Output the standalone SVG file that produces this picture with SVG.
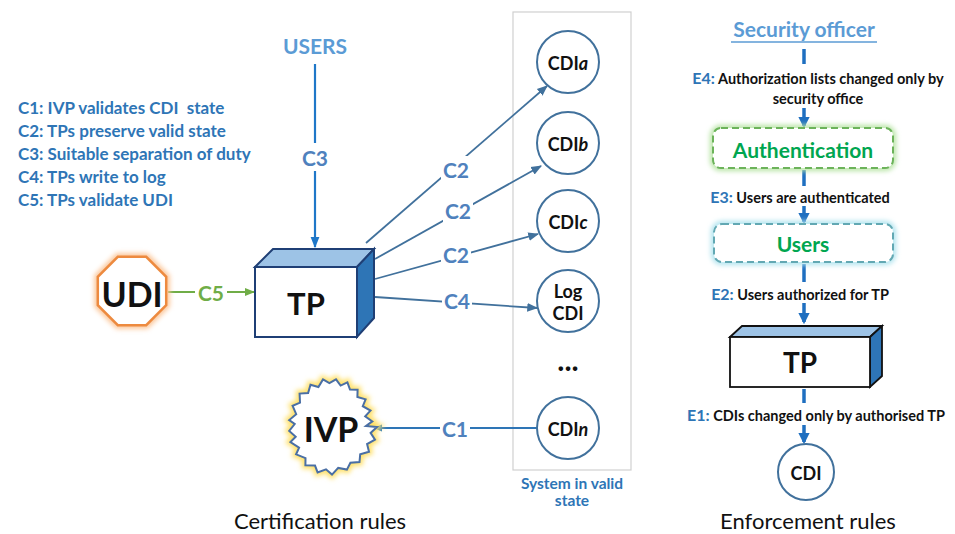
<svg xmlns="http://www.w3.org/2000/svg" width="955" height="534" viewBox="0 0 955 534">
  <style>
    text { font-family: Lato, "Open Sans", "Liberation Sans", sans-serif; font-weight: bold; }
    .legend { font-size: 17px; fill: #2e75b6; }
    .clabel { font-size: 21px; fill: #4f81bd; text-anchor: middle; dominant-baseline: central; }
    .conn { stroke: #41719c; stroke-width: 1.8; fill: none; marker-end: url(#arrSteel); }
    .cdi { fill: #fff; stroke: #41719c; stroke-width: 2; }
    .cdiText { font-size: 18px; fill: #111; text-anchor: middle; dominant-baseline: central; }
    .desc { font-size: 14.5px; fill: #111; text-anchor: middle; }
    .elabel { fill: #2e75b6; }
    .flow { stroke: #1f6fc0; stroke-width: 3.5; fill: none; }
    .flowArr { stroke: #1f6fc0; stroke-width: 3.5; fill: none; marker-end: url(#arrFlow); }
    .caption { font-size: 22px; fill: #111; text-anchor: middle; font-weight: normal; }
  </style>
  <defs>
    <marker id="arrSteel" viewBox="0 0 10 10" refX="9" refY="5" markerWidth="6" markerHeight="6" orient="auto" markerUnits="strokeWidth">
      <path d="M0,1 L10,5 L0,9 z" fill="#41719c"/>
    </marker>
    <marker id="arrBlue" viewBox="0 0 10 10" refX="9" refY="5" markerWidth="5" markerHeight="5" orient="auto" markerUnits="strokeWidth">
      <path d="M0,1 L10,5 L0,9 z" fill="#1f77c8"/>
    </marker>
    <marker id="arrGreen" viewBox="0 0 10 10" refX="9" refY="5" markerWidth="5" markerHeight="5" orient="auto" markerUnits="strokeWidth">
      <path d="M0,1 L10,5 L0,9 z" fill="#70ad47"/>
    </marker>
    <marker id="arrFlow" viewBox="0 0 10 10" refX="8" refY="5" markerWidth="3.2" markerHeight="3.2" orient="auto" markerUnits="strokeWidth">
      <path d="M0,0 L10,5 L0,10 z" fill="#1f6fc0"/>
    </marker>
    <filter id="glow" x="-30%" y="-30%" width="160%" height="160%">
      <feGaussianBlur stdDeviation="2.5"/>
    </filter>
  </defs>

  <!-- legend -->
  <g id="legend">
    <text class="legend" x="18" y="114">C1: IVP validates CDI &#160;state</text>
    <text class="legend" x="18" y="137">C2: TPs preserve valid state</text>
    <text class="legend" x="18" y="160">C3: Suitable separation of duty</text>
    <text class="legend" x="18" y="183">C4: TPs write to log</text>
    <text class="legend" x="18" y="206">C5: TPs validate UDI</text>
  </g>

  <!-- system container -->
  <g id="system">
    <rect x="513" y="12" width="118" height="458" fill="none" stroke="#d0d0d0" stroke-width="1.2"/>
    <text x="572" y="489" font-size="15.5" fill="#2e75b6" text-anchor="middle">System in valid</text>
    <text x="572" y="506" font-size="15.5" fill="#2e75b6" text-anchor="middle">state</text>
  </g>

  <!-- connectors -->
  <g id="connectors">
    <line class="conn" x1="366" y1="243" x2="547" y2="86"/>
    <line class="conn" x1="375" y1="259" x2="541" y2="166"/>
    <line class="conn" x1="375" y1="279" x2="538" y2="234"/>
    <line class="conn" x1="375" y1="297" x2="537" y2="308"/>
    <line x1="537" y1="428" x2="374" y2="428" stroke="#2e75b6" stroke-width="1.8" marker-end="url(#arrBlue)"/>
    <line x1="315" y1="64" x2="315" y2="247" stroke="#1f77c8" stroke-width="2.2" marker-end="url(#arrBlue)"/>
    <line x1="168" y1="292" x2="254" y2="292" stroke="#70ad47" stroke-width="2" marker-end="url(#arrGreen)"/>

    <rect x="441" y="156" width="30" height="26" fill="#fff"/>
    <text class="clabel" x="456" y="169">C2</text>
    <rect x="443" y="197" width="30" height="26" fill="#fff"/>
    <text class="clabel" x="458" y="210">C2</text>
    <rect x="441" y="241" width="30" height="26" fill="#fff"/>
    <text class="clabel" x="456" y="254">C2</text>
    <rect x="442" y="287" width="30" height="26" fill="#fff"/>
    <text class="clabel" x="457" y="300">C4</text>
    <rect x="440" y="415" width="30" height="26" fill="#fff"/>
    <text class="clabel" x="455" y="428">C1</text>
    <rect x="300" y="143" width="30" height="28" fill="#fff"/>
    <text class="clabel" x="315" y="157">C3</text>
    <rect x="195" y="280" width="32" height="24" fill="#fff"/>
    <text class="clabel" x="211" y="292" style="fill:#70ad47">C5</text>
  </g>

  <!-- users source -->
  <g id="users">
    <text x="315" y="54" font-size="21" fill="#5b9bd5" text-anchor="middle">USERS</text>
  </g>

  <!-- UDI octagon -->
  <g id="udi">
    <polygon points="166.2,305.2 146.2,325.2 117.8,325.2 97.8,305.2 97.8,276.8 117.8,256.8 146.2,256.8 166.2,276.8" fill="none" stroke="#fbc596" stroke-width="7" filter="url(#glow)"/>
    <polygon points="166.2,305.2 146.2,325.2 117.8,325.2 97.8,305.2 97.8,276.8 117.8,256.8 146.2,256.8 166.2,276.8" fill="#fff" stroke="#ed8a3f" stroke-width="2.5"/>
    <text x="132" y="293" font-size="34" fill="#111" text-anchor="middle" dominant-baseline="central">UDI</text>
  </g>

  <!-- TP block (certification) -->
  <g id="tp">
    <polygon points="255,267 273,249 374,249 357,267" fill="#9dc3e6" stroke="#1f3f75" stroke-width="2"/>
    <polygon points="357,267 374,249 374,318 357,337" fill="#2e75b6" stroke="#1f3f75" stroke-width="2"/>
    <rect x="255" y="267" width="102" height="70" fill="#fff" stroke="#1f3f75" stroke-width="2"/>
    <text x="306" y="303" font-size="31" fill="#111" text-anchor="middle" dominant-baseline="central">TP</text>
  </g>

  <!-- IVP starburst -->
  <g id="ivp">
    <polygon points="377.0,427.0 370.6,432.9 375.0,439.7 367.1,444.1 369.0,451.7 360.2,454.3 359.5,462.1 350.4,462.7 346.9,469.6 338.2,467.9 332.0,474.6 326.0,469.3 317.6,472.4 315.0,465.6 305.4,465.3 305.5,458.2 296.1,454.3 299.1,447.7 290.4,442.0 295.7,436.7 289.2,430.9 294.7,424.0 289.2,420.1 296.2,414.2 292.6,405.8 300.0,402.7 299.6,393.6 308.1,393.0 310.5,384.8 318.4,387.0 323.0,379.4 329.4,383.1 336.0,379.4 340.6,385.6 347.4,382.4 350.0,389.6 357.6,389.8 357.4,397.0 365.6,399.3 362.8,406.2 370.5,410.6 365.2,416.4 372.3,421.4 366.0,426.0" fill="none" stroke="#ffe066" stroke-width="7" filter="url(#glow)"/>
    <polygon points="377.0,427.0 370.6,432.9 375.0,439.7 367.1,444.1 369.0,451.7 360.2,454.3 359.5,462.1 350.4,462.7 346.9,469.6 338.2,467.9 332.0,474.6 326.0,469.3 317.6,472.4 315.0,465.6 305.4,465.3 305.5,458.2 296.1,454.3 299.1,447.7 290.4,442.0 295.7,436.7 289.2,430.9 294.7,424.0 289.2,420.1 296.2,414.2 292.6,405.8 300.0,402.7 299.6,393.6 308.1,393.0 310.5,384.8 318.4,387.0 323.0,379.4 329.4,383.1 336.0,379.4 340.6,385.6 347.4,382.4 350.0,389.6 357.6,389.8 357.4,397.0 365.6,399.3 362.8,406.2 370.5,410.6 365.2,416.4 372.3,421.4 366.0,426.0" fill="#fff" stroke="#4a6fa5" stroke-width="2"/>
    <text x="331" y="428" font-size="34" fill="#111" text-anchor="middle" dominant-baseline="central">IVP</text>
  </g>

  <!-- CDIs in the system -->
  <g id="cdi-a">
    <circle class="cdi" cx="568" cy="62" r="31"/>
    <text class="cdiText" x="568" y="63">CDI<tspan font-style="italic">a</tspan></text>
  </g>
  <g id="cdi-b">
    <circle class="cdi" cx="568" cy="143" r="31"/>
    <text class="cdiText" x="568" y="144">CDI<tspan font-style="italic">b</tspan></text>
  </g>
  <g id="cdi-c">
    <circle class="cdi" cx="568" cy="221" r="31"/>
    <text class="cdiText" x="568" y="222">CDI<tspan font-style="italic">c</tspan></text>
  </g>
  <g id="cdi-log">
    <circle class="cdi" cx="568" cy="301" r="31"/>
    <text class="cdiText" x="568" y="291">Log</text>
    <text class="cdiText" x="568" y="313">CDI</text>
  </g>
  <g id="ellipsis">
    <text x="568" y="371" font-size="30" fill="#111" text-anchor="middle">...</text>
  </g>
  <g id="cdi-n">
    <circle class="cdi" cx="568" cy="428" r="31"/>
    <text class="cdiText" x="568" y="429">CDI<tspan font-style="italic">n</tspan></text>
  </g>

  <text class="caption" x="320" y="529">Certification rules</text>

  <!-- enforcement rules -->
  <g id="security-officer">
    <text x="804" y="37" font-size="21" fill="#5b9bd5" text-anchor="middle" font-weight="normal">Security officer</text>
    <line x1="731" y1="42" x2="877" y2="42" stroke="#5b9bd5" stroke-width="1.3"/>
  </g>
  <g id="enf-connectors">
    <line class="flow" x1="804" y1="49" x2="804" y2="64"/>
    <line class="flowArr" x1="804" y1="108" x2="804" y2="126"/>
    <line class="flow" x1="804" y1="170" x2="804" y2="186"/>
    <line class="flowArr" x1="804" y1="206" x2="804" y2="222"/>
    <line class="flow" x1="804" y1="264" x2="804" y2="282"/>
    <line class="flowArr" x1="804" y1="303" x2="804" y2="322"/>
    <line class="flow" x1="804" y1="389" x2="804" y2="403"/>
    <line class="flowArr" x1="804" y1="425" x2="804" y2="442"/>
  </g>
  <g id="enf-labels">
    <text class="desc" x="818" y="84"><tspan class="elabel" font-size="16">E4:</tspan> Authorization lists changed only by</text>
    <text class="desc" x="818" y="104">security office</text>
    <text class="desc" x="800" y="203"><tspan class="elabel" font-size="16">E3:</tspan> Users are authenticated</text>
    <text class="desc" x="800" y="300"><tspan class="elabel" font-size="16">E2:</tspan> Users authorized for TP</text>
    <text class="desc" x="816" y="421"><tspan class="elabel" font-size="16">E1:</tspan> CDIs changed only by authorised TP</text>
  </g>
  <g id="authentication">
    <rect x="713" y="128" width="180" height="40" rx="8" fill="none" stroke="#b7e4a4" stroke-width="6" filter="url(#glow)"/>
    <rect x="713" y="128" width="180" height="40" rx="8" fill="#fff" stroke="#6cb35a" stroke-width="2" stroke-dasharray="7 4"/>
    <text x="803" y="149" font-size="21" fill="#00a650" text-anchor="middle" dominant-baseline="central">Authentication</text>
  </g>
  <g id="users-box">
    <rect x="714" y="224" width="179" height="38" rx="8" fill="none" stroke="#aee3ee" stroke-width="6" filter="url(#glow)"/>
    <rect x="714" y="224" width="179" height="38" rx="8" fill="#fff" stroke="#62a8b3" stroke-width="2" stroke-dasharray="7 4"/>
    <text x="803" y="243" font-size="21" fill="#00a650" text-anchor="middle" dominant-baseline="central">Users</text>
  </g>
  <g id="tp-enforce">
    <polygon points="730,337 742,326 882,326 870,337" fill="#9dc3e6" stroke="#111" stroke-width="1.8"/>
    <polygon points="870,337 882,326 882,376 870,387" fill="#2e75b6" stroke="#111" stroke-width="1.8"/>
    <rect x="730" y="337" width="140" height="50" fill="#fff" stroke="#111" stroke-width="1.8"/>
    <text x="800" y="362" font-size="28" fill="#111" text-anchor="middle" dominant-baseline="central">TP</text>
  </g>
  <g id="cdi-enforce">
    <circle class="cdi" cx="806" cy="472" r="28"/>
    <text class="cdiText" x="806" y="473" font-size="19">CDI</text>
  </g>
  <text class="caption" x="808" y="529">Enforcement rules</text>
</svg>
